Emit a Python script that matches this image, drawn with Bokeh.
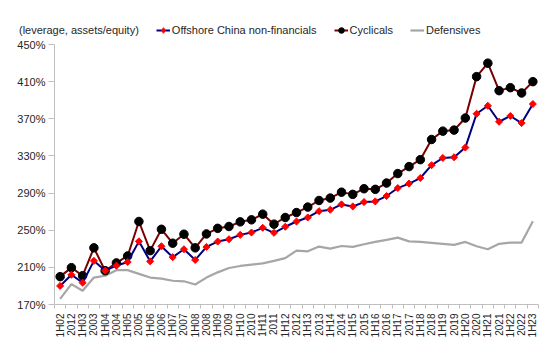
from bokeh.plotting import figure
from bokeh.layouts import column, row
from bokeh.models import (ColumnDataSource, FixedTicker, Range1d, Legend, LegendItem,
                          PrintfTickFormatter)
from bokeh.embed import file_html
from bokeh.resources import INLINE
import math

categories = ["1H02", "2012", "1H03", "2003", "1H04", "2004", "1H05", "2005", "1H06", "2006",
              "1H07", "2007", "1H08", "2008", "1H09", "2009", "1H10", "2010", "1H11", "2011",
              "1H12", "2012", "1H13", "2013", "1H14", "2014", "1H15", "2015", "1H16", "2016",
              "1H17", "2017", "1H18", "2018", "1H19", "2019", "1H20", "2020", "1H21", "2021",
              "1H22", "2022", "1H23"]

offshore = [190, 202, 193.5, 217, 206.4, 211.8, 215.8, 238, 216.5, 232.7,
            221, 229.5, 218, 232, 237.8, 240.3, 245, 247.5, 252.6, 247.2,
            253.7, 259.4, 263.7, 270.5, 272, 277.8, 275.6, 280.3, 281, 286.8,
            295.4, 300.2, 306.2, 320, 327.8, 328.6, 339, 375.4, 384, 366.8,
            373, 365.4, 385.9]

cyclicals = [200, 209.7, 201, 231, 206.4, 214.8, 222.3, 259.4, 228, 251,
             236, 245.7, 231, 246, 252, 254, 259, 261.2, 267.3, 256.5,
             263.7, 269, 274.9, 282, 284.6, 291, 288.6, 294.7, 294, 300.8,
             311, 318.5, 326, 347.7, 356.7, 357.8, 370.8, 415.4, 429.9, 400.3,
             403.5, 397.8, 410]

defensives = [176, 192, 184.8, 199, 201, 207, 207, 203, 199, 197.8,
              195.6, 195, 191.6, 199, 204.6, 209.3, 211.5, 213, 214.3, 217,
              220, 228, 227.3, 232.4, 230.2, 233, 232, 234.9, 237.4, 239.6,
              242, 238, 237.4, 236.4, 235.3, 234.2, 237.4, 232.7, 229.5, 235.3,
              236.7, 236.7, 259.7]

y_ticks = [170, 210, 250, 290, 330, 370, 410, 450]
y_title = "(leverage, assets/equity)"
series_names = ["Offshore China non-financials", "Cyclicals", "Defensives"]

FONT = "Liberation Sans"
TEXT_COLOR = "#262626"
AXIS_COLOR = "#BFBFBF"
OFF_LINE, OFF_MARK = "#000080", "#FF0000"
CYC_LINE, CYC_MARK = "#7A0000", "black"
DEF_LINE = "#A6A6A6"

x = list(range(len(categories)))
src = ColumnDataSource(dict(x=x, off=offshore, cyc=cyclicals, dfn=defensives))

# ---------------- main chart ----------------
p = figure(width=550, height=318, output_backend="svg", toolbar_location=None,
           x_range=Range1d(-0.5, len(categories) - 0.5),
           y_range=Range1d(y_ticks[0], y_ticks[-1]),
           min_border_left=54, min_border_right=12, min_border_top=6, min_border_bottom=52)
p.outline_line_color = None
p.xgrid.visible = False
p.ygrid.visible = False

p.line("x", "dfn", source=src, line_color=DEF_LINE, line_width=2.2)
p.line("x", "cyc", source=src, line_color=CYC_LINE, line_width=2)
p.scatter("x", "cyc", source=src, marker="circle", size=8.5,
          fill_color=CYC_MARK, line_color=CYC_MARK)
p.line("x", "off", source=src, line_color=OFF_LINE, line_width=2)
p.scatter("x", "off", source=src, marker="square", size=5, angle=math.pi / 4,
          fill_color=OFF_MARK, line_color=OFF_MARK)

xa = p.xaxis[0]
xa.ticker = FixedTicker(ticks=x, minor_ticks=[i - 0.5 for i in range(len(categories) + 1)])
xa.major_label_overrides = {i: c for i, c in enumerate(categories)}
xa.major_label_orientation = math.pi / 2
xa.major_tick_out = 0
xa.major_tick_in = 0
xa.minor_tick_out = 4
xa.minor_tick_in = 0
xa.minor_tick_line_color = AXIS_COLOR
xa.axis_line_color = AXIS_COLOR
xa.major_label_text_font = FONT
xa.major_label_text_font_size = "10px"
xa.major_label_text_color = TEXT_COLOR
xa.major_label_standoff = 5

ya = p.yaxis[0]
ya.ticker = FixedTicker(ticks=y_ticks, minor_ticks=[])
ya.formatter = PrintfTickFormatter(format="%d%%")
ya.major_tick_out = 6
ya.major_tick_in = 0
ya.major_tick_line_color = AXIS_COLOR
ya.axis_line_color = AXIS_COLOR
ya.major_label_text_font = FONT
ya.major_label_text_font_size = "11px"
ya.major_label_text_color = TEXT_COLOR
ya.major_label_standoff = 3

# ---------------- header: axis title + legend ----------------
h = figure(width=550, height=38, output_backend="svg", toolbar_location=None,
           x_range=Range1d(0, 1), y_range=Range1d(0, 1),
           x_axis_type=None, y_axis_type=None,
           min_border_left=0, min_border_right=0, min_border_top=0, min_border_bottom=0)
h.outline_line_color = None
h.xgrid.visible = False
h.ygrid.visible = False

nan = [float("nan")]
d_title = h.line(nan, nan, line_alpha=0)
d_off_l = h.line(nan, nan, line_color=OFF_LINE, line_width=2)
d_off_m = h.scatter(nan, nan, marker="diamond", size=8,
                    fill_color=OFF_MARK, line_color=OFF_MARK)
d_cyc_l = h.line(nan, nan, line_color=CYC_LINE, line_width=2)
d_cyc_m = h.scatter(nan, nan, marker="circle", size=8.5, fill_color=CYC_MARK, line_color=CYC_MARK)
d_def = h.line(nan, nan, line_color=DEF_LINE, line_width=2.2)

legend = Legend(items=[
    LegendItem(label=y_title, renderers=[d_title]),
    LegendItem(label=series_names[0], renderers=[d_off_l, d_off_m]),
    LegendItem(label=series_names[1], renderers=[d_cyc_l, d_cyc_m]),
    LegendItem(label=series_names[2], renderers=[d_def]),
], orientation="horizontal", location=(3, 1))
legend.padding = 0
legend.margin = 0
legend.spacing = 17
legend.glyph_width = 14
legend.glyph_height = 14
legend.label_height = 14
legend.label_width = 10
legend.label_standoff = 2
legend.border_line_color = None
legend.background_fill_alpha = 0
legend.label_text_font = FONT
legend.label_text_font_size = "11px"
legend.label_text_color = TEXT_COLOR
h.add_layout(legend, "center")

layout = column(row(h, spacing=0), row(p, spacing=0), spacing=0)
open("out.html", "w").write(file_html(layout, INLINE))
